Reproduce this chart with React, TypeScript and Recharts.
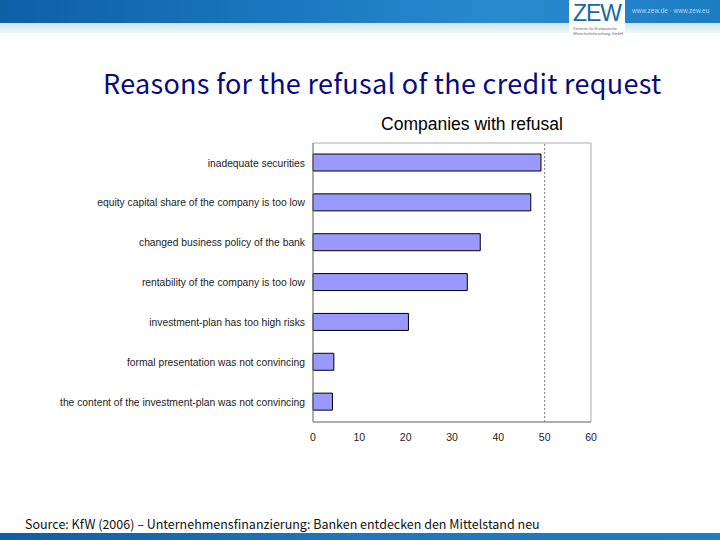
import React from "react"
import {
  BarChart,
  Bar,
  XAxis,
  YAxis,
  ReferenceLine,
  ReferenceArea,
} from "recharts"

const reasons = [
  "inadequate securities",
  "equity capital share of the company is too low",
  "changed business policy of the bank",
  "rentability of the company is too low",
  "investment-plan has too high risks",
  "formal presentation was not convincing",
  "the content of the investment-plan was not convincing",
]
const refusalShare = [49.2, 47.0, 36.1, 33.3, 20.6, 4.5, 4.2]
const xTicks = [0, 10, 20, 30, 40, 50, 60]

const data = reasons.map((reason, i) => ({ reason, value: refusalShare[i] }))

const sans = "Liberation Sans, Arial, sans-serif"
const tickFont = { fontSize: 10.5, fill: "#222", fontFamily: sans }

// plain svg text so long labels stay on one line
function ReasonTick({ x, y, payload }: any) {
  return (
    <text x={x} y={y} dy="0.35em" textAnchor="end" fontSize={10.3} fill="#222" fontFamily={sans}>
      {payload.value}
    </text>
  )
}

export default function App() {
  return (
    <div
      style={{
        position: "absolute",
        left: 0,
        top: 0,
        width: 720,
        height: 540,
        background: "#fff",
        overflow: "hidden",
      }}
    >
      {/* header band */}
      <div
        style={{
          position: "absolute",
          left: 0,
          top: 0,
          width: 720,
          height: 23,
          background: "linear-gradient(90deg, #0d5fa6 0%, #1b78c0 40%, #2a8ad0 70%, #1c7cc4 100%)",
        }}
      />
      <div
        style={{
          position: "absolute",
          left: 0,
          top: 23,
          width: 720,
          height: 10,
          background: "linear-gradient(180deg, #cfe6ef 0%, #eef7fa 100%)",
        }}
      />
      <div
        style={{
          position: "absolute",
          left: 569,
          top: 0,
          width: 56,
          height: 42,
          background: "#fff",
          borderRadius: "0 0 6px 6px",
        }}
      />

      <svg style={{ position: "absolute", left: 0, top: 0 }} width={720} height={540}>
        {/* logo + url */}
        <text x={597} y={21} textAnchor="middle" fontFamily={sans} fontSize={23} fill="#1a66a6" letterSpacing={-1}>
          ZEW
        </text>
        <text x={573} y={30} fontFamily={sans} fontSize={4} fill="#667">
          Zentrum für Europäische
        </text>
        <text x={573} y={35} fontFamily={sans} fontSize={4} fill="#667">
          Wirtschaftsforschung GmbH
        </text>
        <text x={632} y={13} fontFamily={sans} fontSize={6.5} fill="#b8d8f0">
          www.zew.de · www.zew.eu
        </text>

        {/* titles */}
        <text
          x={103}
          y={94}
          fontFamily="Noto Sans CJK JP, sans-serif"
          fontSize={27}
          fill="#0a0a80"
          letterSpacing={0.3}
        >
          Reasons for the refusal of the credit request
        </text>
        <text x={472} y={130} textAnchor="middle" fontFamily={sans} fontSize={17.5} fill="#000">
          Companies with refusal
        </text>
        <text x={25} y={529} fontFamily="Noto Sans CJK JP, sans-serif" fontSize={12.5} fill="#111">
          Source: KfW (2006) – Unternehmensfinanzierung: Banken entdecken den Mittelstand neu
        </text>
      </svg>

      <div style={{ position: "absolute", left: 0, top: 0 }}>
        <BarChart
          width={720}
          height={540}
          layout="vertical"
          data={data}
          margin={{ top: 143, right: 129, bottom: 88, left: 45 }}
          barSize={17}
        >
          <XAxis
            type="number"
            domain={[0, 60]}
            ticks={xTicks}
            tick={tickFont}
            tickLine={false}
            axisLine={{ stroke: "#888" }}
            height={30}
            tickMargin={6}
          />
          <YAxis
            type="category"
            dataKey="reason"
            width={268}
            tick={<ReasonTick />}
            tickLine={false}
            axisLine={{ stroke: "#888" }}
            tickMargin={2}
            interval={0}
          />
          <ReferenceArea x1={0} x2={60} fill="none" stroke="#aaa" strokeWidth={1} />
          <ReferenceLine x={50} stroke="#777" strokeDasharray="2 2" />
          <Bar
            dataKey="value"
            fill="#9999ff"
            stroke="#000"
            strokeWidth={1}
            isAnimationActive={false}
          />
        </BarChart>
      </div>

      {/* footer band */}
      <div
        style={{
          position: "absolute",
          left: 0,
          top: 533,
          width: 720,
          height: 7,
          background: "linear-gradient(90deg, #0d5fa6 0%, #1b78c0 50%, #1c7cc4 100%)",
        }}
      />
    </div>
  )
}
